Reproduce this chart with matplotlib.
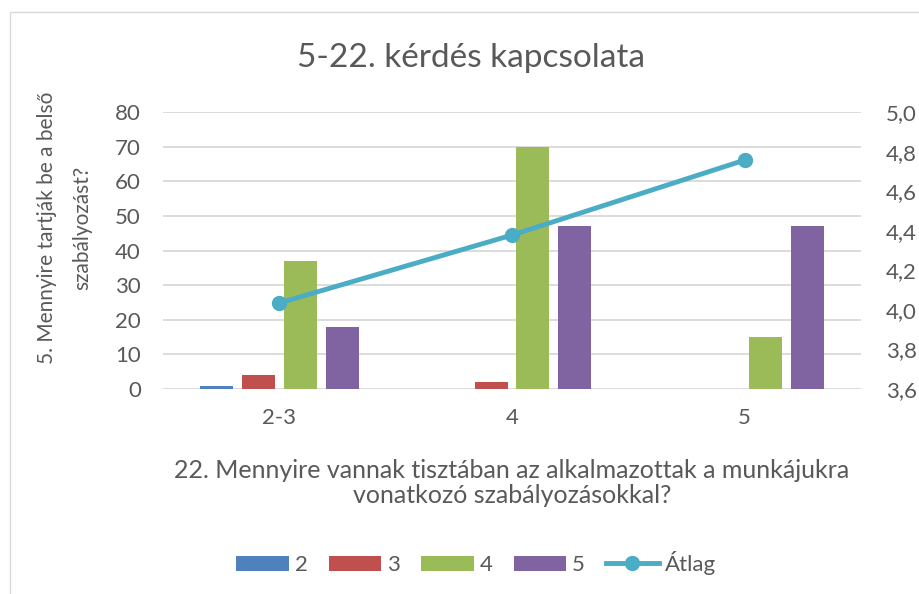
import matplotlib.pyplot as plt
import numpy as np
from matplotlib.patches import Rectangle

plt.rcParams['font.family'] = ['Lato', 'DejaVu Sans']

# Data
categories = ['2-3', '4', '5']
series_names = ['2', '3', '4', '5']
counts_2 = [1, 0, 0]
counts_3 = [4, 2, 0]
counts_4 = [37, 70, 15]
counts_5 = [18, 47, 47]
atlag = [4.035, 4.378, 4.757]

colors = ['#4F81BD', '#C0504D', '#9BBB59', '#8064A2']
line_color = '#4BACC6'
text_color = '#595959'
grid_color = '#D9D9D9'

fig = plt.figure(figsize=(9.19, 5.94), dpi=100)
ax = fig.add_axes([0.1774, 0.3451, 0.7595, 0.4663])
ax2 = ax.twinx()

# chart border
fig.patches.append(Rectangle((10 / 919, -0.1), 1.2, 1 - 12 / 594 + 0.1,
                             transform=fig.transFigure, fill=False,
                             edgecolor='#D9D9D9', linewidth=1))

x = np.arange(len(categories))
slot = 0.18
width = 0.142
for i, (vals, name) in enumerate(zip([counts_2, counts_3, counts_4, counts_5], series_names)):
    ax.bar(x + (i - 1.5) * slot, vals, width, color=colors[i], label=name, zorder=3)

ax.set_xlim(-0.5, 2.5)
ax.set_ylim(0, 80)
ax.set_yticks(range(0, 81, 10))
ax.grid(axis='y', color=grid_color, linewidth=1.3, zorder=0)
ax.set_xticks(x)
ax.set_xticklabels(categories)
for s in ax.spines.values():
    s.set_visible(False)
for s in ax2.spines.values():
    s.set_visible(False)
ax.tick_params(length=0, labelsize=16, colors=text_color)
ax.tick_params(axis='y', pad=16)
ax.tick_params(axis='x', pad=14)

ax2.plot(x, atlag, color=line_color, linewidth=3.5, marker='o', markersize=10, label='Átlag', zorder=4)
ax2.set_ylim(3.6, 5.0)
ax2.set_yticks(np.arange(3.6, 5.01, 0.2))
ax2.set_yticklabels([f'{v:.1f}'.replace('.', ',') for v in np.arange(3.6, 5.01, 0.2)])
ax2.tick_params(length=0, labelsize=16, colors=text_color, pad=18)

fig.text(471 / 919, 1 - 58 / 594, '5-22. kérdés kapcsolata', ha='center', va='center',
         fontsize=24, color=text_color)
fig.text(512 / 919, 1 - 483 / 594,
         '22. Mennyire vannak tisztában az alkalmazottak a munkájukra\nvonatkozó szabályozásokkal?',
         ha='center', va='center', fontsize=18, color=text_color, linespacing=1.1)
# y label, two rotated lines
fig.text(47 / 919, 1 - 228 / 594, '5. Mennyire tartják be a belső',
         ha='center', va='center', rotation=90, fontsize=15, color=text_color)
fig.text(82 / 919, 1 - 228 / 594, 'szabályozást?',
         ha='center', va='center', rotation=90, fontsize=15, color=text_color)

h1, l1 = ax.get_legend_handles_labels()
h2, l2 = ax2.get_legend_handles_labels()
fig.legend(h1 + h2, l1 + l2, loc='center', bbox_to_anchor=(476 / 919, 1 - 563 / 594), ncol=5,
           frameon=False, fontsize=16, labelcolor=text_color, handlelength=2.36,
           handleheight=0.64, handletextpad=0.27, columnspacing=0.95, borderpad=0.2)

fig.savefig('out.png', dpi=100)
